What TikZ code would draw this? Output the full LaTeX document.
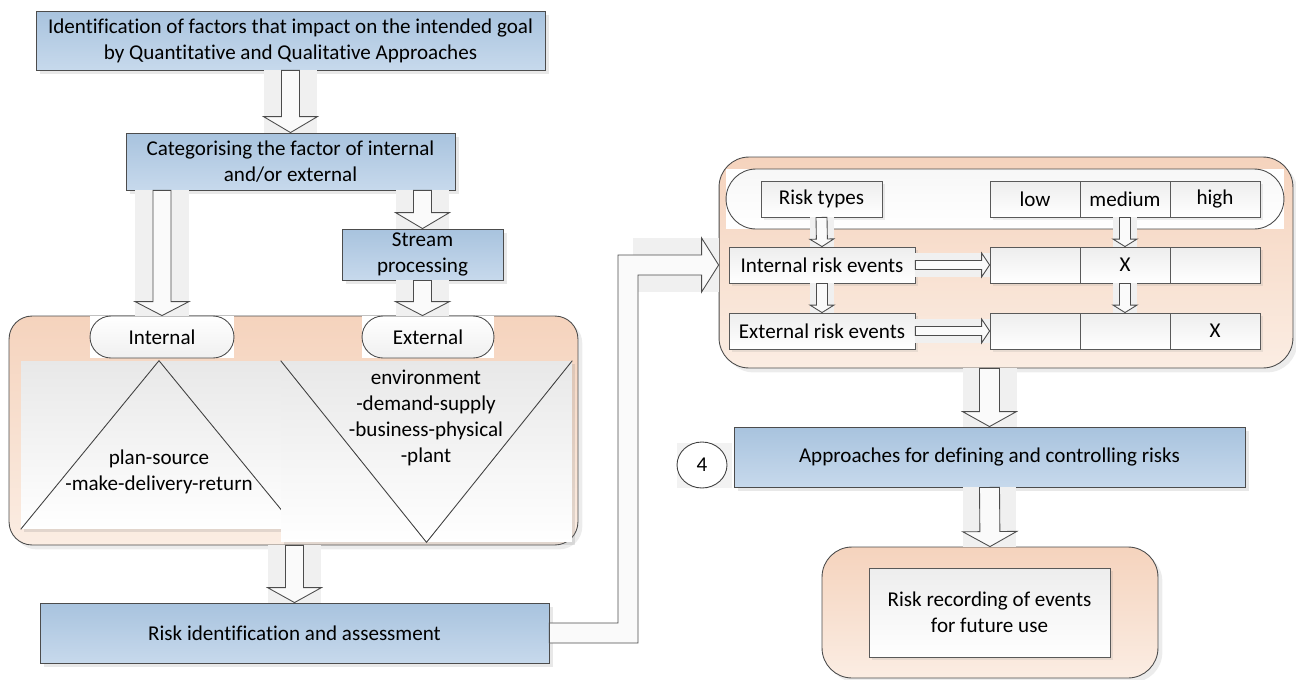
\documentclass[tikz,border=0pt]{standalone}
\usepackage{fontspec}
\setmainfont{Carlito}[Ligatures=NoCommon]
\usetikzlibrary{calc,shadows,shapes.geometric}

\definecolor{blueA}{RGB}{168,195,222}
\definecolor{blueB}{RGB}{199,217,236}
\definecolor{peachA}{RGB}{245,211,189}
\definecolor{peachB}{RGB}{251,237,227}

% block arrow: start, end, shaft half, head half, head length
\newcommand{\blockarrow}[5]{%
  \fill[black!6] ($#1!#4!90:#2$) rectangle ($#2!#4!90:#1$);
  \coordinate (hb) at ($#2!#5!#1$);
  \draw[arrowbody] ($#1!#3!90:#2$) -- ($(hb)!#3!90:#2$) -- ($(hb)!#4!90:#2$) -- #2
    -- ($(hb)!#4!-90:#2$) -- ($(hb)!#3!-90:#2$) -- ($#1!#3!-90:#2$) -- cycle;}

\begin{document}
\begin{tikzpicture}[x=0.02cm, y=-0.02cm,
    every node/.style={font=\fontsize{12}{14.7}\selectfont, align=center, inner sep=0pt},
    bluebox/.style={draw=black!70, line width=0.5pt, top color=blueA, bottom color=blueB,
      drop shadow={shadow xshift=2.5pt, shadow yshift=-2.5pt, opacity=0.18}},
    holder/.style={draw=black!70, line width=0.5pt, top color=peachA, bottom color=peachB,
      drop shadow={shadow xshift=2.5pt, shadow yshift=-2.5pt, opacity=0.15}},
    pill/.style={draw=black!70, line width=0.5pt, top color=white, bottom color=black!6},
    panel/.style={top color=black!9, bottom color=white,
      drop shadow={shadow xshift=1.5pt, shadow yshift=-1.5pt, opacity=0.2}},
    cell/.style={draw=black!65, line width=0.5pt, top color=black!7, bottom color=white,
      minimum height=0.72cm,
      drop shadow={shadow xshift=1.5pt, shadow yshift=-1.5pt, opacity=0.15}},
    arrowbody/.style={draw=black!70, line width=0.5pt, fill=black!2}]
\useasboundingbox (0,0) rectangle (1296,680);

% left column
\node[bluebox, minimum width=10.18cm, minimum height=1.18cm] (ident) at (290.5,40.5)
  {Identification of factors that impact on the intended goal\\by Quantitative and Qualitative Approaches};
\node[bluebox, minimum width=6.58cm, minimum height=1.14cm] (categ) at (290.5,161.5)
  {Categorising the factor of internal\\and/or external};
\node[bluebox, minimum width=3.22cm, minimum height=1.02cm] (stream) at (422.5,254.5)
  {Stream\\processing};

\node[holder, rounded corners=0.46cm, minimum width=11.38cm, minimum height=4.58cm] (factors) at (293.5,430.5) {};
\node[panel, minimum width=5.52cm, minimum height=3.36cm] (intpanel) at (159,445) {};
\draw[black!75, line width=0.5pt] (intpanel.south west) -- (intpanel.north) -- (intpanel.south east);
\node (inttext) at (159,472) {plan-source\\-make-delivery-return};
\node[panel, minimum width=5.82cm, minimum height=3.62cm] (extpanel) at (426.5,451.5) {};
\draw[black!75, line width=0.5pt] (extpanel.north west) -- (extpanel.south) -- (extpanel.north east);
\node (exttext) at (426,418) {environment\\-demand-supply\\-business-physical\\-plant};

\fill[white] (90,316) rectangle (234,358);
\node[pill, rounded corners=0.42cm, minimum width=2.88cm, minimum height=0.84cm] (internal) at (162,337) {Internal};
\fill[white] (362,316) rectangle (494,358);
\node[pill, rounded corners=0.42cm, minimum width=2.64cm, minimum height=0.84cm] (external) at (428,337) {External};

\node[bluebox, minimum width=10.18cm, minimum height=1.2cm] (riskid) at (294.5,633)
  {Risk identification and assessment};

% right column
\node[holder, rounded corners=0.6cm, minimum width=11.48cm, minimum height=4.22cm] (matrix) at (1006,262.5) {};
\fill[white] (726,169) rectangle (1284,229);
\node[pill, rounded corners=0.6cm, top color=black!3, bottom color=white,
  minimum width=11.16cm, minimum height=1.2cm] (header) at (1005,199) {};
\node[cell, minimum width=2.42cm] (rtypes) at (821.5,199) {Risk types};
\node[cell, minimum width=1.8cm] (low) at (1035,199) {low};
\node[cell, minimum width=1.8cm] (med) at (1125,199) {medium};
\node[cell, minimum width=1.8cm] (high) at (1215,199) {high};
\node[cell, minimum width=3.72cm] (intev) at (822,265) {Internal risk events};
\node[cell, minimum width=1.8cm] (lowA) at (1035,265) {};
\node[cell, minimum width=1.8cm] (medA) at (1125,265) {X};
\node[cell, minimum width=1.8cm] (highA) at (1215,265) {};
\node[cell, minimum width=3.72cm] (extev) at (822,331) {External risk events};
\node[cell, minimum width=1.8cm] (lowB) at (1035,331) {};
\node[cell, minimum width=1.8cm] (medB) at (1125,331) {};
\node[cell, minimum width=1.8cm] (highB) at (1215,331) {X};

\node[bluebox, minimum width=10.22cm, minimum height=1.2cm] (control) at (989.5,457)
  {Approaches for defining and controlling risks};
\fill[black!5] (677,443) rectangle (732,488);
\node[ellipse, draw=black!75, line width=0.5pt, fill=white, minimum width=1.0cm, minimum height=0.92cm] (four) at (702,465) {4};

\node[holder, rounded corners=0.6cm, minimum width=6.72cm, minimum height=2.62cm] (store) at (990,612.5) {};
\node[cell, minimum width=4.82cm, minimum height=1.78cm] (record) at (989.5,612.5)
  {Risk recording of events\\for future use};

% block arrows
\coordinate (toint) at (categ.south -| internal.north);
\coordinate (tostream) at (categ.south -| stream.north);
\coordinate (toext) at (stream.south |- external.north);
\coordinate (torisk) at (factors.south -| riskid.north);
\coordinate (tocontrol) at (matrix.south -| control.north);
\blockarrow{(ident.south)}{(categ.north)}{0.18cm}{0.54cm}{0.32cm}
\blockarrow{(toint)}{(internal.north)}{0.18cm}{0.54cm}{0.28cm}
\blockarrow{(tostream)}{(stream.north)}{0.18cm}{0.54cm}{0.32cm}
\blockarrow{(stream.south)}{(toext)}{0.18cm}{0.54cm}{0.28cm}
\blockarrow{(torisk)}{(riskid.north)}{0.18cm}{0.54cm}{0.3cm}
\blockarrow{(tocontrol)}{(control.north)}{0.2cm}{0.54cm}{0.3cm}
\blockarrow{(control.south)}{(store.north)}{0.2cm}{0.54cm}{0.3cm}

\blockarrow{(rtypes.south)}{(intev.north)}{0.11cm}{0.24cm}{0.15cm}
\blockarrow{(med.south)}{(medA.north)}{0.11cm}{0.24cm}{0.15cm}
\blockarrow{(intev.south)}{(extev.north)}{0.11cm}{0.24cm}{0.15cm}
\blockarrow{(medA.south)}{(medB.north)}{0.11cm}{0.24cm}{0.15cm}
\blockarrow{(intev.east)}{(lowA.west)}{0.09cm}{0.24cm}{0.16cm}
\blockarrow{(extev.east)}{(lowB.west)}{0.09cm}{0.24cm}{0.16cm}

% elbow from assessment to the matrix
\coordinate (bx) at (628,0);
\coordinate (etip) at (matrix.west |- intev.west);
\fill[black!6] ($(etip)+(-86,-27)$) rectangle ($(etip)+(0,27)$);
\draw[arrowbody] ($(riskid.east)+(0,-10)$) -- ($(riskid.east -| bx)+(-10,-10)$)
  -- ($(bx |- etip)+(-10,-10)$) -- ($(etip)+(-17,-10)$) -- ($(etip)+(-17,-27)$) -- (etip)
  -- ($(etip)+(-17,27)$) -- ($(etip)+(-17,10)$) -- ($(bx |- etip)+(10,10)$)
  -- ($(riskid.east -| bx)+(10,10)$) -- ($(riskid.east)+(0,10)$) -- cycle;
\end{tikzpicture}
\end{document}
